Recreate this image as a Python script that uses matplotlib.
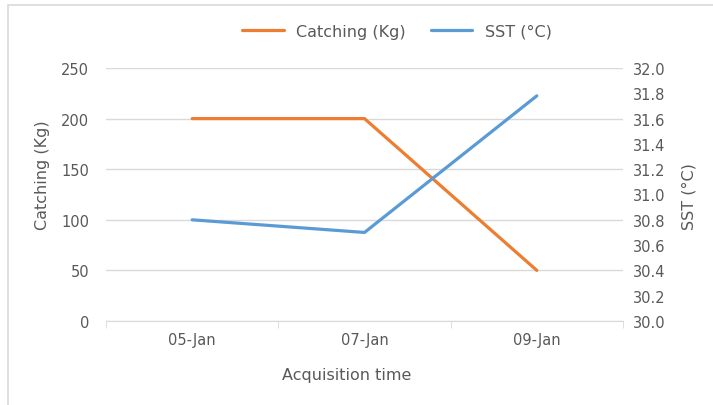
import matplotlib
matplotlib.use('Agg')
import matplotlib.pyplot as plt
from matplotlib.patches import Rectangle

dates = ['05-Jan', '07-Jan', '09-Jan']
catching = [200, 200, 50]
sst = [30.8, 30.7, 31.78]

TEXT = '#595959'
GRID = '#D9D9D9'
ORANGE = '#ED7D31'
BLUE = '#5B9BD5'

plt.rcParams['font.family'] = ['DejaVu Sans']
plt.rcParams['font.size'] = 10.5

fig = plt.figure(figsize=(7.13, 4.06), dpi=100)
# light chart-area border (right and bottom edges run off the image)
fig.patches.append(Rectangle((8 / 713, -0.1), 1.1, 1.1 - 6 / 406, transform=fig.transFigure,
                             fill=False, edgecolor='#D9D9D9', linewidth=1.2))

ax = fig.add_axes([106 / 713, 1 - 322 / 406, (623 - 106) / 713, (322 - 69) / 406])
ax2 = ax.twinx()

x = range(len(dates))
l1, = ax.plot(x, catching, color=ORANGE, linewidth=2.3, solid_capstyle='round', label='Catching (Kg)')
l2, = ax2.plot(x, sst, color=BLUE, linewidth=2.3, solid_capstyle='round', label='SST (°C)')

ax.set_xlim(-0.5, len(dates) - 0.5)
ax.set_ylim(0, 250)
ax.set_yticks(range(0, 251, 50))
ax2.set_ylim(30.0, 32.0)
ax2.set_yticks([30.0 + 0.2 * i for i in range(11)])
ax2.set_yticklabels([f'{30.0 + 0.2 * i:.1f}' for i in range(11)])

ax.set_xticks(list(x))
ax.set_xticklabels(dates)
ax.set_xticks([i + 0.5 for i in range(-1, len(dates))], minor=True)

ax.grid(axis='y', color=GRID, linewidth=1)
ax.set_axisbelow(True)
for a in (ax, ax2):
    for s in a.spines.values():
        s.set_visible(False)
ax.spines['bottom'].set_visible(True)
ax.spines['bottom'].set_color(GRID)

ax.tick_params(axis='x', which='major', length=0, pad=8, colors=TEXT)
ax.tick_params(axis='x', which='minor', length=5, color=GRID, direction='out')
ax.tick_params(axis='y', length=0, pad=12, colors=TEXT)
ax2.tick_params(axis='y', length=0, pad=7, colors=TEXT)

fig.text(347 / 713, 1 - 376 / 406, 'Acquisition time', color=TEXT, fontsize=11.5, ha='center', va='center')
fig.text(43 / 713, 1 - 175 / 406, 'Catching (Kg)', color=TEXT, fontsize=11.5, ha='center', va='center', rotation=90)
fig.text(689 / 713, 1 - 197 / 406, 'SST (°C)', color=TEXT, fontsize=11.5, ha='center', va='center', rotation=90)

leg = fig.legend(handles=[l1, l2], loc='center', bbox_to_anchor=(397 / 713, 1 - 32 / 406), ncol=2,
                 frameon=False, fontsize=11.5, handlelength=2.6, handletextpad=0.8, columnspacing=1.55)
for t in leg.get_texts():
    t.set_color(TEXT)

fig.savefig('out.png', dpi=100)
